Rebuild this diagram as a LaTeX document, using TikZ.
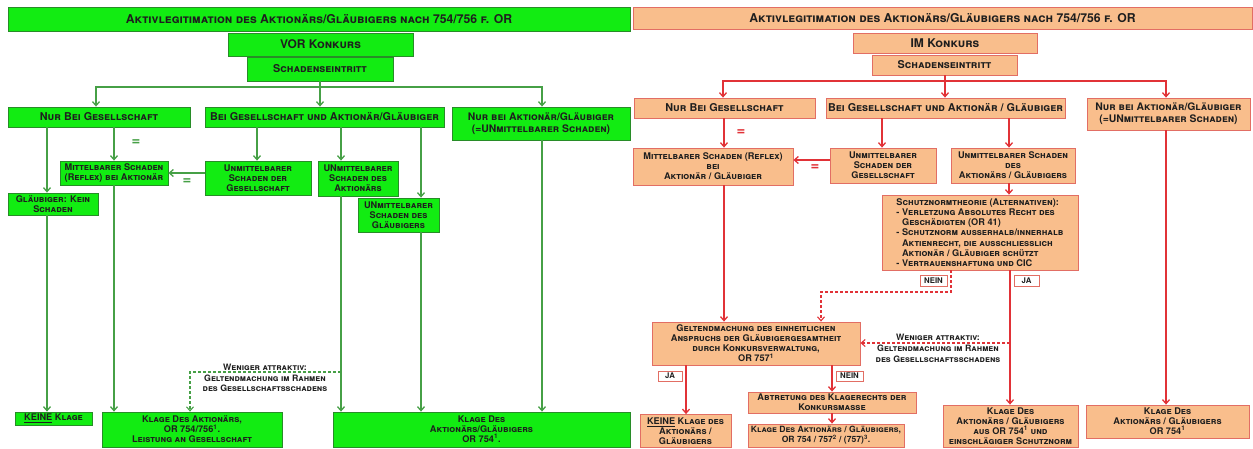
\documentclass[tikz,border=0pt]{standalone}
\usepackage{fontspec}
\setmainfont{TeX Gyre Heros}
\usetikzlibrary{arrows.meta}
\definecolor{gfill}{RGB}{18,236,18}
\definecolor{gdraw}{RGB}{40,140,40}
\definecolor{garr}{RGB}{70,160,70}
\definecolor{ofill}{RGB}{249,190,140}
\definecolor{odraw}{RGB}{226,110,100}
\definecolor{oarr}{RGB}{225,50,55}
\definecolor{txt}{RGB}{30,30,30}
\tikzset{
  base/.style={line width=0.8pt, align=center, inner sep=0pt, text=txt,
    font=\bfseries\scshape\fontsize{9.2}{10}\selectfont},
  gbox/.style={base, draw=gdraw, fill=gfill},
  obox/.style={base, draw=odraw, fill=ofill},
  lbl/.style={base, draw=odraw, fill=white, line width=0.6pt, font=\bfseries\fontsize{7.8}{8}\selectfont},
  top/.style={font=\bfseries\scshape\fontsize{10.8}{12}\selectfont},
  topb/.style={font=\bfseries\scshape\fontsize{10.4}{12}\selectfont},
  ttl/.style={font=\bfseries\scshape\fontsize{12.2}{13}\selectfont},
  big/.style={font=\bfseries\scshape\fontsize{12}{13}\selectfont},
  garrow/.style={draw=garr, line width=1.3pt, -{Straight Barb[length=4pt,width=7pt]}},
  gline/.style={draw=garr, line width=1.3pt},
  gdash/.style={draw=garr, line width=1.1pt, dash pattern=on 3pt off 2pt, -{Straight Barb[length=4pt,width=7pt]}},
  oarrow/.style={draw=oarr, line width=1.3pt, -{Straight Barb[length=4pt,width=7pt]}},
  oline/.style={draw=oarr, line width=1.3pt},
  odash/.style={draw=oarr, line width=1.1pt, dash pattern=on 3pt off 2pt, -{Straight Barb[length=4pt,width=7pt]}},
  geq/.style={text=garr, font=\bfseries\fontsize{15}{15}\selectfont, inner sep=0pt},
  oeq/.style={text=oarr, font=\bfseries\fontsize{15}{15}\selectfont, inner sep=0pt},
  note/.style={align=center, inner sep=0pt, text=txt, font=\bfseries\scshape\fontsize{8.8}{10.8}\selectfont},
}
\begin{document}
\begin{tikzpicture}[x=1pt,y=-1pt]
\useasboundingbox (0,0) rectangle (1253,448);
% ================= LEFT (VOR KONKURS) =================
\node[gbox,ttl,minimum width=622pt,minimum height=24pt] (ltitle) at (319,19) {Aktivlegitimation des Aktionärs/Gläubigers nach 754/756 f. OR};
\node[gbox,big,minimum width=185pt,minimum height=23pt] (lvor) at (320.5,44.5) {VOR Konkurs};
\node[gbox,top,minimum width=146pt,minimum height=24pt] (lschaden) at (320,69) {Schadenseintritt};
\node[gbox,top,minimum width=182pt,minimum height=20pt] (lnurges) at (99,117) {Nur Bei Gesellschaft};
\node[gbox,top,minimum width=239pt,minimum height=20pt] (lbeide) at (324.5,117) {Bei Gesellschaft und Aktionär/Gläubiger};
\node[gbox,topb,minimum width=178pt,minimum height=33pt] (lnurakt) at (541,123.5) {Nur bei Aktionär/Gläubiger\\(=UNmittelbarer Schaden)};
\node[gbox,minimum width=108pt,minimum height=24pt] (lmittel) at (114,173) {Mittelbarer Schaden\\(Reflex) bei Aktionär};
\node[gbox,minimum width=90pt,minimum height=22pt] (lkeinsch) at (53,204) {Gläubiger: Kein\\Schaden};
\node[gbox,minimum width=106pt,minimum height=34pt] (lunges) at (258,178) {Unmittelbarer\\Schaden der\\Gesellschaft};
\node[gbox,minimum width=80pt,minimum height=35pt] (lunakt) at (358,178.5) {UNmittelbarer\\Schaden des\\Aktionärs};
\node[gbox,minimum width=81pt,minimum height=34pt] (lunglb) at (398.5,215) {UNmittelbarer\\Schaden des\\Gläubigers};
\node[gbox,minimum width=77pt,minimum height=13pt] (lkeine) at (53.5,418.5) {\underline{KEINE} Klage};
\node[gbox,minimum width=180pt,minimum height=35pt] (lklageakt) at (192,429.5) {Klage Des Aktionärs,\\OR 754/756\textsuperscript{1}.\\Leistung an Gesellschaft};
\node[gbox,minimum width=297pt,minimum height=35pt] (lklageag) at (481.5,429.5) {Klage Des\\Aktionärs/Gläubigers\\OR 754\textsuperscript{1}.};
% left connectors
\coordinate (lh) at (320,87);
\draw[gline] (lschaden.south) -- (lh);
\draw[garrow] (lh) -| (lnurges.north -| 96,0);
\draw[garrow] (lh) -- (lbeide.north -| lh);
\draw[garrow] (lh) -| (lnurakt.north -| 542,0);
\draw[garrow] (lnurges.south -| 47,0) -- (lkeinsch.north -| 47,0);
\draw[garrow] (lkeinsch.south -| 47,0) -- (lkeine.north -| 47,0);
\draw[garrow] (lnurges.south -| 114,0) -- (lmittel.north -| 114,0);
\node[geq] (leq1) at (136,143) {=};
\draw[garrow] (lmittel.south -| 114,0) -- (lklageakt.north -| 114,0);
\draw[garrow] (lbeide.south -| 257,0) -- (lunges.north -| 257,0);
\draw[garrow] (lbeide.south -| 341,0) -- (lunakt.north -| 341,0);
\draw[garrow] (lbeide.south -| 421,0) -- (lunglb.north -| 421,0);
\draw[garrow] (lunges.west |- 0,173) -- (lmittel.east |- 0,173);
\node[geq] (leq2) at (187,182) {=};
\draw[garrow] (lunakt.south -| 341,0) -- (lklageag.north -| 341,0);
\draw[garrow] (lunglb.south -| 421,0) -- (lklageag.north -| 421,0);
\draw[garrow] (lnurakt.south -| 542,0) -- (lklageag.north -| 542,0);
\coordinate (ld) at (341,372);
\draw[gdash] (ld) -| (lklageakt.north -| 190,0);
\node[note] (lnote) at (265,378) {Weniger attraktiv:\\Geltendmachung im Rahmen\\des Gesellschaftsschadens};
% ================= RIGHT (IM KONKURS) =================
\node[obox,ttl,minimum width=619pt,minimum height=22pt] (rtitle) at (942.5,18) {Aktivlegitimation des Aktionärs/Gläubigers nach 754/756 f. OR};
\node[obox,big,minimum width=184pt,minimum height=20pt] (rim) at (945,43) {IM Konkurs};
\node[obox,top,minimum width=145pt,minimum height=20pt] (rschaden) at (944.5,65) {Schadenseintritt};
\node[obox,top,minimum width=181pt,minimum height=20pt] (rnurges) at (724.5,108) {Nur Bei Gesellschaft};
\node[obox,top,minimum width=239pt,minimum height=20pt] (rbeide) at (945.5,108) {Bei Gesellschaft und Aktionär / Gläubiger};
\node[obox,topb,minimum width=163pt,minimum height=32pt] (rnurakt) at (1168.5,114) {Nur bei Aktionär/Gläubiger\\(=UNmittelbarer Schaden)};
\node[obox,minimum width=160pt,minimum height=37pt] (rmittel) at (713,166.5) {Mittelbarer Schaden (Reflex)\\bei\\Aktionär / Gläubiger};
\node[obox,minimum width=106pt,minimum height=35pt] (runges) at (883,165.5) {Unmittelbarer\\Schaden der\\Gesellschaft};
\node[obox,minimum width=124pt,minimum height=35pt] (runakt) at (1013,165.5) {Unmittelbarer Schaden\\des\\Aktionärs / Gläubigers};
\node[obox,minimum width=196pt,minimum height=75pt,align=left,font=\bfseries\scshape\fontsize{9.2}{10.2}\selectfont] (rschutz) at (980,232.5) {Schutznormtheorie (Alternativen):\\
- Verletzung Absolutes Recht des\\
\phantom{- }Geschädigten (OR 41)\\
- Schutznorm ausserhalb/innerhalb\\
\phantom{- }Aktienrecht, die ausschliesslich\\
\phantom{- }Aktionär / Gläubiger schützt\\
- Vertrauenshaftung und CIC};
\node[lbl,minimum width=27pt,minimum height=11pt] (rnein1) at (933.5,280.5) {NEIN};
\node[lbl,minimum width=25pt,minimum height=11pt] (rja1) at (1026.5,280.5) {JA};
\node[obox,minimum width=208pt,minimum height=43pt] (rgelt) at (756,343.5) {Geltendmachung des einheitlichen\\Anspruchs der Gläubigergesamtheit\\durch Konkursverwaltung,\\OR 757\textsuperscript{1}};
\node[lbl,minimum width=24pt,minimum height=10pt] (rja2) at (670,376) {JA};
\node[lbl,minimum width=27pt,minimum height=10pt] (rnein2) at (849.5,376) {NEIN};
\node[obox,minimum width=91pt,minimum height=33pt] (rkeine) at (685.5,431) {\underline{KEINE} Klage des\\Aktionärs /\\Gläubigers};
\node[obox,minimum width=168pt,minimum height=21pt] (rabtr) at (832,402.5) {Abtretung des Klagerechts der\\Konkursmasse};
\node[obox,minimum width=156pt,minimum height=23pt,font=\bfseries\scshape\fontsize{8.6}{10}\selectfont] (rklage3) at (826,435.5) {Klage Des Aktionärs / Gläubigers,\\OR 754 / 757\textsuperscript{2} / (757)\textsuperscript{3}.};
\node[obox,minimum width=135pt,minimum height=42pt] (rklage4) at (1010.5,426) {Klage Des\\Aktionärs / Gläubigers\\aus OR 754\textsuperscript{1} und\\einschlägiger Schutznorm};
\node[obox,minimum width=163pt,minimum height=33pt] (rklage5) at (1167.5,421.5) {Klage Des\\Aktionärs / Gläubigers\\OR 754\textsuperscript{1}};
% right connectors
\coordinate (rh) at (945,81);
\draw[oline] (rschaden.south -| rh) -- (rh);
\draw[oarrow] (rh) -| (rnurges.north -| 723,0);
\draw[oarrow] (rh) -- (rbeide.north -| rh);
\draw[oarrow] (rh) -| (rnurakt.north -| 1166,0);
\draw[oarrow] (rnurges.south -| 724,0) -- (rmittel.north -| 724,0);
\node[oeq] (req1) at (741,133) {=};
\draw[oarrow] (rbeide.south -| 882,0) -- (runges.north -| 882,0);
\draw[oarrow] (rbeide.south -| 1009,0) -- (runakt.north -| 1009,0);
\draw[oarrow] (runges.west |- 0,160) -- (rmittel.east |- 0,160);
\node[oeq] (req2) at (815,168) {=};
\draw[oarrow] (runakt.south -| 1009,0) -- (rschutz.north -| 1009,0);
\draw[oarrow] (rmittel.south -| 724,0) -- (rgelt.north -| 724,0);
\draw[odash] (rschutz.south -| 951,0) -- (951,292) -| (rgelt.north -| 821,0);
\draw[oarrow] (rschutz.south -| 1010,0) -- (rklage4.north -| 1010,0);
\coordinate (rd) at (1010,343);
\draw[odash] (rd) -- (rgelt.east |- rd);
\node[note] (rnote) at (938,348.5) {Weniger attraktiv:\\Geltendmachung im Rahmen\\des Gesellschaftsschadens};
\draw[oarrow] (rgelt.south -| 686,0) -- (rkeine.north -| 686,0);
\draw[oarrow] (rgelt.south -| 832,0) -- (rabtr.north -| 832,0);
\draw[oarrow] (rabtr.south -| 832,0) -- (rklage3.north -| 832,0);
\draw[oarrow] (rnurakt.south -| 1166,0) -- (rklage5.north -| 1166,0);
\end{tikzpicture}
\end{document}
